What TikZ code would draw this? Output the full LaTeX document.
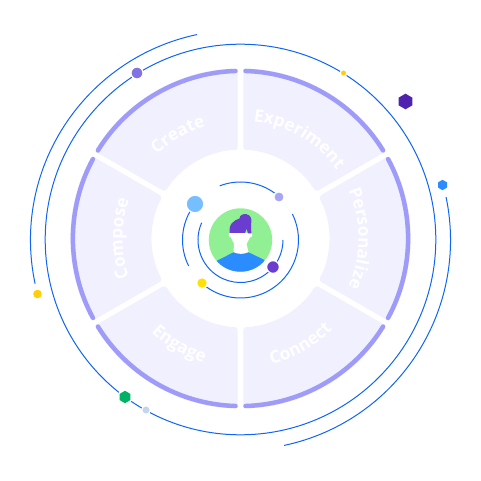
\documentclass[tikz,border=0pt]{standalone}
\usepackage{fontspec}
\setmainfont{Open Sans}
\usetikzlibrary{decorations.text}
\definecolor{lav}{HTML}{F0F0FE}
\definecolor{arcc}{HTML}{9F9BF8}
\definecolor{linec}{HTML}{0F66F5}
\definecolor{ava}{HTML}{92F094}
\definecolor{shirt}{HTML}{2A8CFF}
\definecolor{hair}{HTML}{6A3CCF}
\definecolor{skyd}{HTML}{75BEFF}
\definecolor{yel}{HTML}{FFE000}
\definecolor{yelb}{HTML}{FFCF0A}
\definecolor{mid}{HTML}{8173E4}
\definecolor{pale}{HTML}{C5D5F0}
\definecolor{lila}{HTML}{A9A5F5}
\definecolor{hexp}{HTML}{4F22B0}
\definecolor{hexb}{HTML}{2A8CFF}
\definecolor{hexg}{HTML}{00B265}
\tikzset{
  orbit/.style={draw=linec,line width=1pt},
  thickarc/.style={draw=arcc,line width=4.5pt,line cap=round},
  segfill/.style={fill=lav,rounded corners=3pt},
  halo/.style={draw=white,line width=1.2pt},
}
\newcommand{\seg}[2]{%
  \path[segfill] (#1-0.95:169.8) arc (#1-0.95:#2+0.95:169.8) -- (#2+1.8:88.7) arc (#2+1.8:#1-1.8:88.7) -- cycle;
  \draw[thickarc] (#1-1.7:167.6) arc (#1-1.7:#2+1.7:167.6);
}
\newcommand{\cwtext}[2]{%
  \path[decorate,decoration={text along path,text align=center,text={|\bfseries\fontsize{17.3}{20}\selectfont\color{white}|#2}}]
    (#1+45:118) arc (#1+45:#1-45:118);
}
\newcommand{\ccwtext}[2]{%
  \path[decorate,decoration={text along path,text align=center,text={|\bfseries\fontsize{17.3}{20}\selectfont\color{white}|#2}}]
    (#1-45:129.5) arc (#1-45:#1+45:129.5);
}
\newcommand{\hexa}[4]{%
  \fill[#4,shift={(#1,#2)}] (30:#3) -- (90:#3) -- (150:#3) -- (210:#3) -- (270:#3) -- (330:#3) -- cycle;
}
\begin{document}
\begin{tikzpicture}[x=1pt,y=1pt]
\fill[white] (-240.5,-241) rectangle (240.5,240);
\useasboundingbox (-240.5,-241) rectangle (240.5,240);
% outer orbits
\draw[orbit] (0,0.5) circle (195.3);
\draw[orbit] (102:210) arc (102:192:210);
\draw[orbit] (11.8:210) arc (11.8:-78:210);
\begin{scope}[shift={(0,1.5)}]
% segments
\seg{90}{30}
\seg{30}{-30}
\seg{-30}{-90}
\seg{-90}{-150}
\seg{-150}{-210}
\seg{-210}{-270}
% labels
\cwtext{59.5}{Experiment}
\cwtext{0}{Personalize}
\ccwtext{-60.5}{Connect}
\ccwtext{-120}{Engage}
\cwtext{180}{Compose}
\cwtext{121}{Create}
\end{scope}
% inner orbits
\draw[orbit] (156:42.5) arc (156:360:42.5);
\draw[orbit] (26.6:58) arc (26.6:-126:58);
\draw[orbit] (111:58) arc (111:54:58);
\draw[orbit] (150.7:58) arc (150.7:206.6:58);
% avatar
\fill[ava] (0,0) circle (31.7);
\begin{scope}
  \clip (0,0) circle (31.7);
  \fill[shirt] (-24,-21) -- (-7,-12.3) -- (8,-12.3) -- (24,-20) -- (24,-40) -- (-24,-40) -- cycle;
\end{scope}
\fill[white] (-10,7) .. controls (-12.5,7) and (-12.5,3) .. (-9.5,2.5) -- (-6.5,-4) -- (-7,-12) .. controls (-3,-14.5) and (4,-14.5) .. (8,-12) -- (6,-4) -- (9.5,2.5) .. controls (12.5,3) and (12.5,7) .. (10,7) -- cycle;
\fill[hair] (-10.8,7) .. controls (-11.2,12) and (-10.5,15) .. (-8.8,16.7) .. controls (-6.5,19.5) and (-3.5,20.5) .. (-1,21.5) .. controls (-1,25) and (3,26.5) .. (6,25.8) .. controls (10,25) and (11.5,21) .. (10.8,18) .. controls (10.5,14) and (10.5,10) .. (11,6.5) -- (7.5,6.5) -- (6.2,11.5) -- (4.5,7) -- cycle;
% inner dots
\filldraw[fill=skyd,halo] (-45.5,36) circle (8.8);
\filldraw[fill=lila,halo] (38.5,43) circle (5.2);
\filldraw[fill=hair,halo] (32.5,-27) circle (6.4);
\filldraw[fill=yel,halo] (-38.5,-43) circle (5.4);
% outer dots and hexagons
\filldraw[fill=mid,halo] (-103.5,167) circle (6);
\filldraw[fill=yelb,halo] (103,167) circle (3.3);
\fill[yelb] (-203,-54) circle (4.3);
\filldraw[fill=pale,halo] (-94.5,-170) circle (4.3);
\hexa{165}{138.5}{7.8}{hexp}
\hexa{202}{55}{5.2}{hexb}
\fill[white] (-115.5,-157) circle (7.6);
\hexa{-115.5}{-157}{6.2}{hexg}
\end{tikzpicture}
\end{document}
